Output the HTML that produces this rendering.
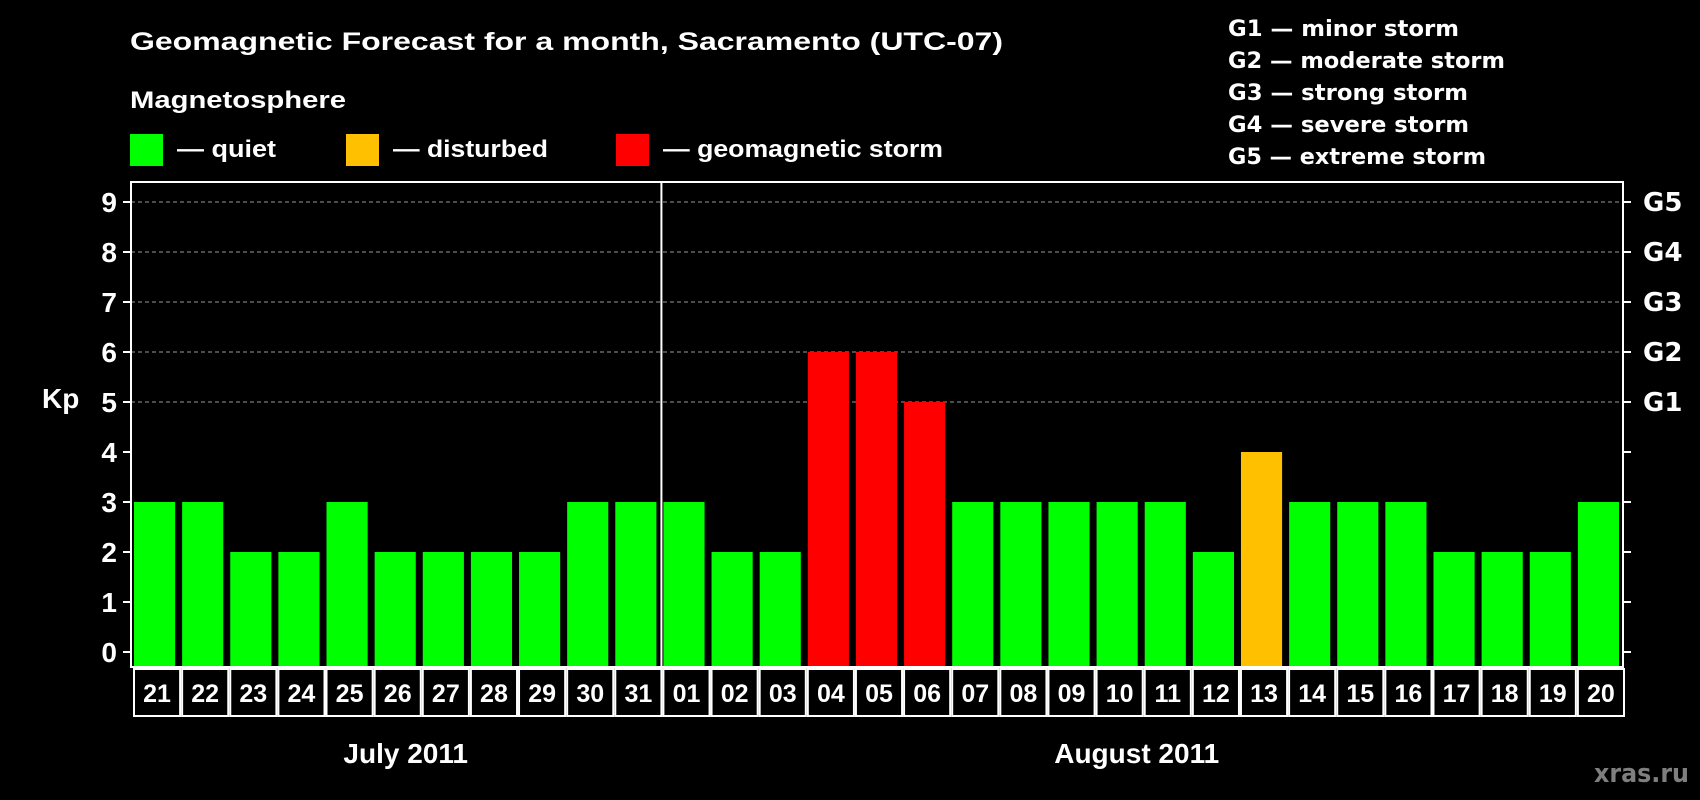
<!DOCTYPE html>
<html><head><meta charset="utf-8"><style>
html,body{margin:0;padding:0;background:#000;}
svg{display:block;font-family:"Liberation Sans",Arial,sans-serif;font-weight:bold;}
</style></head><body>
<svg id="chart" width="1700" height="800" viewBox="0 0 1700 800" xmlns="http://www.w3.org/2000/svg">
<rect width="1700" height="800" fill="#000"/>
<text x="130" y="50" fill="#fff" font-size="25" textLength="873" lengthAdjust="spacingAndGlyphs">Geomagnetic Forecast for a month, Sacramento (UTC-07)</text>
<text x="130" y="108" fill="#fff" font-size="24" textLength="216" lengthAdjust="spacingAndGlyphs">Magnetosphere</text>
<g>
<rect x="130" y="134" width="33" height="32" fill="#00ff00"/>
<text x="177" y="157" fill="#fff" font-size="24" textLength="99" lengthAdjust="spacingAndGlyphs">— quiet</text></g>
<g>
<rect x="346" y="134" width="33" height="32" fill="#ffc000"/>
<text x="393" y="157" fill="#fff" font-size="24" textLength="155" lengthAdjust="spacingAndGlyphs">— disturbed</text></g>
<g>
<rect x="616" y="134" width="33" height="32" fill="#ff0000"/>
<text x="663" y="157" fill="#fff" font-size="24" textLength="280" lengthAdjust="spacingAndGlyphs">— geomagnetic storm</text></g>
<g font-family="'DejaVu Sans',Verdana,sans-serif" font-size="22" fill="#fff">
<text x="1228" y="36" textLength="231" lengthAdjust="spacingAndGlyphs">G1 — minor storm</text>
<text x="1228" y="68" textLength="277" lengthAdjust="spacingAndGlyphs">G2 — moderate storm</text>
<text x="1228" y="100" textLength="240" lengthAdjust="spacingAndGlyphs">G3 — strong storm</text>
<text x="1228" y="132" textLength="241" lengthAdjust="spacingAndGlyphs">G4 — severe storm</text>
<text x="1228" y="164" textLength="258" lengthAdjust="spacingAndGlyphs">G5 — extreme storm</text>
</g>
<text x="42" y="408" fill="#fff" font-size="28">Kp</text>
<g id="grid"></g><g id="bars"></g><g id="axes"></g>
<text x="1594" y="782" fill="#7f7f7f" font-size="26" font-family="'DejaVu Sans',Verdana,sans-serif" textLength="95" lengthAdjust="spacingAndGlyphs">xras.ru</text>
</svg>
<script>
const days = ["21","22","23","24","25","26","27","28","29","30","31","01","02","03","04","05","06","07","08","09","10","11","12","13","14","15","16","17","18","19","20"];
const kpValues = [3,3,2,2,3,2,2,2,2,3,3,3,2,2,6,6,5,3,3,3,3,3,2,4,3,3,3,2,2,2,3];
const yTicks = [0,1,2,3,4,5,6,7,8,9];
const gLabels = ["G1","G2","G3","G4","G5"];
const gLevels = [5,6,7,8,9];
const months = ["July 2011","August 2011"];
const monthStart = [0,11];

const NS="http://www.w3.org/2000/svg";
const L=131,R=1623,T=182,B=667,Y0=652,Y9=202;
const pitch=(R-L)/days.length;
const y=v=>Y0-(Y0-Y9)*v/9;
const x=i=>L+i*pitch;
function mk(tag,attrs,parent,txt){const e=document.createElementNS(NS,tag);for(const k in attrs)e.setAttribute(k,attrs[k]);if(txt!==undefined)e.textContent=txt;parent.appendChild(e);return e;}
const grid=document.getElementById('grid'),bars=document.getElementById('bars'),axes=document.getElementById('axes');
gLevels.forEach((g,i)=>{
  const ln=mk('line',{x1:L,x2:R,y1:y(g),y2:y(g),stroke:'#999','stroke-dasharray':'4 3','stroke-width':1},grid);
  
  
  const t=mk('text',{x:1643,y:y(g)+9,fill:'#fff','font-size':26,'font-family':"'DejaVu Sans',Verdana,sans-serif"},axes,gLabels[i]);
  
  
});
kpValues.forEach((v,i)=>{
  const c=v>=5?'#ff0000':(v>=4?'#ffc000':'#00ff00');
  const r=mk('rect',{x:x(i)+3,y:y(v),width:pitch-7,height:B-1-y(v),fill:c},bars);
  
  
  const cell=mk('rect',{x:x(i)+3,y:B+2,width:pitch-2,height:47,fill:'none',stroke:'#fff','stroke-width':2},axes);
  
  
  const t=mk('text',{x:x(i)+3+(pitch-2)/2,y:B+35,fill:'#fff','font-size':25,'text-anchor':'middle'},axes,days[i]);
  
  
});
const frame=mk('rect',{x:L,y:T,width:R-L,height:B-T,fill:'none',stroke:'#fff','stroke-width':2},axes);


const dv=mk('line',{x1:x(monthStart[1])+1,x2:x(monthStart[1])+1,y1:T,y2:B,stroke:'#fff','stroke-width':2},axes);


yTicks.forEach(v=>{
  mk('line',{x1:L-8,x2:L,y1:y(v),y2:y(v),stroke:'#fff','stroke-width':2},axes);
  mk('line',{x1:R,x2:R+8,y1:y(v),y2:y(v),stroke:'#fff','stroke-width':2},axes);
  const t=mk('text',{x:117,y:y(v)+10,fill:'#fff','font-size':28,'text-anchor':'end'},axes,String(v));
  
  
});
months.forEach((m,i)=>{
  const s=monthStart[i],e=i+1<monthStart.length?monthStart[i+1]:days.length;
  const t=mk('text',{x:(x(s)+x(e))/2+(i?-5:10),y:763,fill:'#fff','font-size':28,'text-anchor':'middle'},axes,m);
  
  
});
</script>
</body></html>
